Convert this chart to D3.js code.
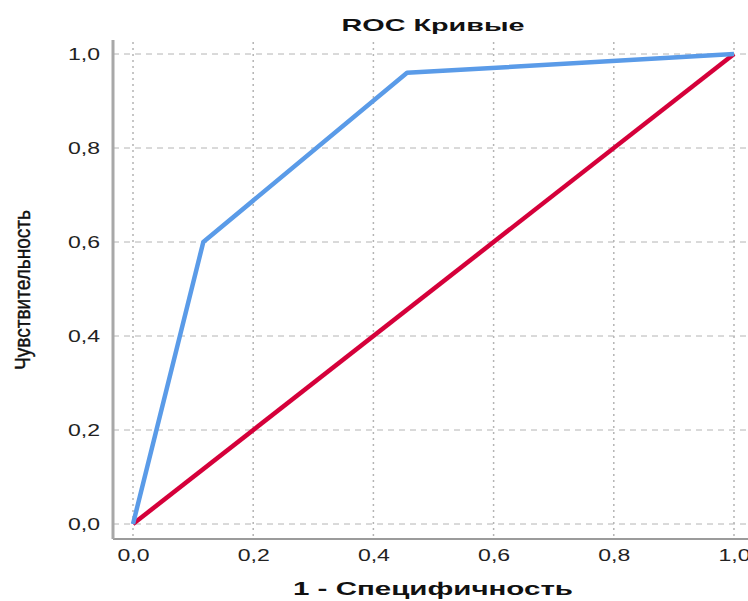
<!DOCTYPE html>
<html>
<head>
<meta charset="utf-8">
<script src="https://cdn.jsdelivr.net/npm/d3@7"></script>
<style>
  body { margin: 0; background: #fff; }
  text { font-family: "Liberation Sans", Arial, sans-serif; }
</style>
</head>
<body>
<div class="chart"></div>
<script>
// data
const rocFpr = [0, 0.117, 0.456, 1];
const rocTpr = [0, 0.6, 0.96, 1];
const refFpr = [0, 1];
const refTpr = [0, 1];
const tickValues = [0, 0.2, 0.4, 0.6, 0.8, 1.0];
const titleText = 'ROC Кривые';
const xLabel = '1 - Специфичность';
const yLabel = 'Чувствительность';

const W = 748, H = 601;
const svg = d3.select('.chart').append('svg')
  .attr('width', W).attr('height', H);

const x = d3.scaleLinear().domain([0, 1]).range([133, 734]);
const y = d3.scaleLinear().domain([0, 1]).range([524, 54]);
const fmt = d => d3.format('.1f')(d).replace('.', ',');

const plotLeft = 113, plotBottom = 539, plotTop = 40, plotRight = 748;

// grid
svg.append('g').selectAll('line').data(tickValues).enter().append('line')
  .attr('x1', d => x(d)).attr('x2', d => x(d))
  .attr('y1', plotTop + 2).attr('y2', plotBottom)
  .attr('stroke', '#b4b4b4').attr('stroke-width', 1.5)
  .attr('stroke-dasharray', '2,4');
svg.append('g').selectAll('line').data(tickValues).enter().append('line')
  .attr('x1', plotLeft).attr('x2', plotRight - 2)
  .attr('y1', d => y(d)).attr('y2', d => y(d))
  .attr('stroke', '#b4b4b4').attr('stroke-width', 1)
  .attr('stroke-dasharray', '6,5');

// axes
const xAxis = d3.axisBottom(x).tickValues(tickValues).tickFormat(fmt).tickSize(0).tickPadding(11);
const yAxis = d3.axisLeft(y).tickValues(tickValues).tickFormat(fmt).tickSize(0).tickPadding(13);

const gx = svg.append('g').attr('transform', `translate(0,${plotBottom})`).call(xAxis);
gx.select('.domain').remove();
const gy = svg.append('g').attr('transform', `translate(${plotLeft},0)`).call(yAxis);
gy.select('.domain').remove();
svg.selectAll('.tick text')
  .style('font-size', '16px').attr('fill', '#222')
  .attr('textLength', 32).attr('lengthAdjust', 'spacingAndGlyphs')
  .style('font-family', '"Liberation Sans", Arial, sans-serif');

svg.append('line')
  .attr('x1', plotLeft).attr('x2', plotRight)
  .attr('y1', plotBottom).attr('y2', plotBottom)
  .attr('stroke', '#7a7a7a').attr('stroke-width', 1.5);
svg.append('line')
  .attr('x1', plotLeft).attr('x2', plotLeft)
  .attr('y1', plotTop).attr('y2', plotBottom)
  .attr('stroke', '#a8a8a8').attr('stroke-width', 3);

// curves
const line = d3.line().x(d => x(d[0])).y(d => y(d[1]));
svg.append('path')
  .datum(d3.zip(refFpr, refTpr))
  .attr('d', line).attr('fill', 'none')
  .attr('stroke', '#d5003a').attr('stroke-width', 4.5)
  .attr('stroke-linejoin', 'round');
svg.append('path')
  .datum(d3.zip(rocFpr, rocTpr))
  .attr('d', line).attr('fill', 'none')
  .attr('stroke', '#5a9be8').attr('stroke-width', 4.5)
  .attr('stroke-linejoin', 'round');

// labels
svg.append('text')
  .attr('x', 433).attr('y', 31)
  .attr('text-anchor', 'middle')
  .attr('font-size', 17).attr('font-weight', 'bold').attr('fill', '#111')
  .attr('textLength', 183).attr('lengthAdjust', 'spacingAndGlyphs')
  .text(titleText);
svg.append('text')
  .attr('x', 433).attr('y', 595)
  .attr('text-anchor', 'middle')
  .attr('font-size', 18).attr('font-weight', 'bold').attr('fill', '#111')
  .attr('textLength', 280).attr('lengthAdjust', 'spacingAndGlyphs')
  .text(xLabel);
svg.append('text')
  .attr('transform', 'translate(30,290) rotate(-90)')
  .attr('text-anchor', 'middle')
  .attr('font-size', 22).attr('fill', '#111')
  .attr('stroke', '#111').attr('stroke-width', 0.4)
  .attr('textLength', 160).attr('lengthAdjust', 'spacingAndGlyphs')
  .text(yLabel);
</script>
</body>
</html>
